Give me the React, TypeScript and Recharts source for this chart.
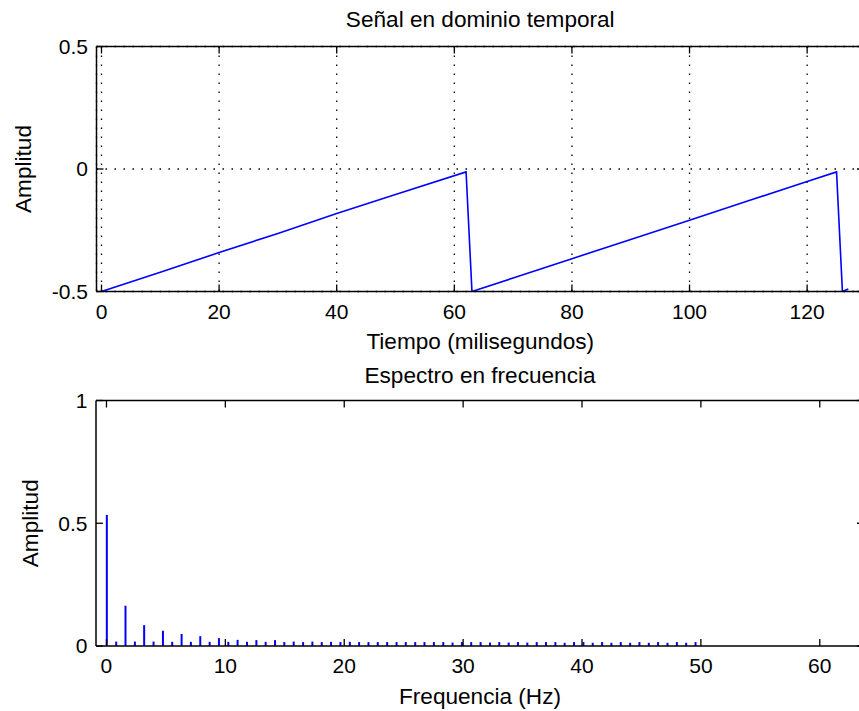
import React from 'react';
import { ComposedChart, Line, Bar, XAxis, YAxis, CartesianGrid } from 'recharts';

// ---- Top plot: time-domain signal ----
const timeMs = [0, 10, 20, 30, 40, 50, 62, 63, 70, 80, 90, 100, 110, 120, 125, 126, 127];
const signalAmp = [-0.5, -0.421, -0.341, -0.263, -0.182, -0.104, -0.012, -0.5, -0.445, -0.366, -0.288, -0.209, -0.13, -0.051, -0.012, -0.5, -0.49];
const timeTicks = [0, 20, 40, 60, 80, 100, 120];
const signalTicks = [-0.5, 0, 0.5];

// ---- Bottom plot: spectrum stems ----
const freqHz = [
  0, 0.79, 1.57, 2.36, 3.14, 3.93, 4.72, 5.5, 6.29, 7.07, 7.86, 8.65, 9.43, 10.22, 11.0, 11.79,
  12.58, 13.36, 14.15, 14.93, 15.72, 16.51, 17.29, 18.08, 18.86, 19.65, 20.44, 21.22, 22.01, 22.79, 23.58, 24.37,
  25.15, 25.94, 26.72, 27.51, 28.3, 29.08, 29.87, 30.65, 31.44, 32.23, 33.01, 33.8, 34.58, 35.37, 36.16, 36.94,
  37.73, 38.51, 39.3, 40.09, 40.87, 41.66, 42.44, 43.23, 44.02, 44.8, 45.59, 46.37, 47.16, 47.95, 48.73, 49.52,
];
const spectrumAmp = [
  0.534, 0.018, 0.164, 0.018, 0.085, 0.018, 0.062, 0.017, 0.049, 0.017, 0.04, 0.017, 0.032, 0.017, 0.025, 0.017,
  0.024, 0.017, 0.024, 0.016, 0.018, 0.016, 0.018, 0.016, 0.017, 0.016, 0.017, 0.016, 0.016, 0.016, 0.016, 0.016,
  0.016, 0.016, 0.016, 0.016, 0.016, 0.014, 0.016, 0.016, 0.016, 0.014, 0.016, 0.014, 0.016, 0.014, 0.016, 0.016,
  0.016, 0.013, 0.016, 0.016, 0.013, 0.016, 0.013, 0.016, 0.013, 0.016, 0.013, 0.016, 0.013, 0.016, 0.013, 0.016,
];
const freqTicks = [0, 10, 20, 30, 40, 50, 60];
const spectrumTicks = [0, 0.5, 1];

const timeData = timeMs.map((t, i) => ({ t, v: signalAmp[i] }));
const specData = freqHz.map((f, i) => ({ f, a: spectrumAmp[i] }));

const FONT = '"Liberation Sans", Arial, Helvetica, sans-serif';
const tickStyle = { fill: '#000', fontSize: 21, fontFamily: FONT };
const labelFont = { fill: '#000', fontSize: 22.6, fontFamily: FONT };
const axisLine = { stroke: '#000', strokeWidth: 1.5 };
const tickLine = { stroke: '#000', strokeWidth: 1.3 };
const emptyTick = () => <g />;
const fmt = (v: number) => String(v);

export default function App() {
  return (
    <div style={{ position: 'absolute', left: 0, top: 0, width: 859, height: 711, overflow: 'hidden', background: '#fff' }}>
      <div style={{ position: 'absolute', left: 0, top: 0 }}>
        <ComposedChart width={900} height={360} data={timeData} margin={{ top: 45.5, right: 35, bottom: 0, left: 0 }}>
          <CartesianGrid stroke="#000" strokeWidth={1.3} strokeDasharray="1.5 7.5" />
          <XAxis
            dataKey="t"
            type="number"
            domain={[-0.85, 129.67]}
            allowDataOverflow
            ticks={timeTicks}
            tickFormatter={fmt}
            height={68.5}
            axisLine={axisLine}
            tickLine={tickLine}
            tickSize={-7}
            tickMargin={20}
            tick={tickStyle}
            interval={0}
            label={{ value: 'Tiempo (milisegundos)', position: 'insideBottom', offset: 11, ...labelFont }}
          />
          <XAxis
            xAxisId="top"
            orientation="top"
            dataKey="t"
            type="number"
            domain={[-0.85, 129.67]}
            allowDataOverflow
            ticks={timeTicks}
            height={1}
            axisLine={axisLine}
            tickLine={tickLine}
            tickSize={-7}
            tick={emptyTick}
            interval={0}
            label={{ value: 'Señal en dominio temporal', position: 'top', offset: 19, ...labelFont }}
          />
          <YAxis
            type="number"
            domain={[-0.5, 0.5]}
            allowDataOverflow
            ticks={signalTicks}
            tickFormatter={fmt}
            width={96.5}
            axisLine={axisLine}
            tickLine={tickLine}
            tickSize={-7}
            tickMargin={15.5}
            tick={tickStyle}
            interval={0}
            label={{ value: 'Amplitud', angle: -90, position: 'insideLeft', offset: 23, ...labelFont, style: { textAnchor: 'middle' } }}
          />
          <YAxis
            yAxisId="right"
            orientation="right"
            type="number"
            domain={[-0.5, 0.5]}
            allowDataOverflow
            ticks={signalTicks}
            width={1}
            axisLine={axisLine}
            tickLine={tickLine}
            tickSize={-7}
            tick={emptyTick}
            interval={0}
          />
          <Line
            xAxisId="top"
            yAxisId="right"
            dataKey="v"
            type="linear"
            stroke="none"
            dot={false}
            activeDot={false}
            isAnimationActive={false}
          />
          <Line
            dataKey="v"
            type="linear"
            stroke="#0000ff"
            strokeWidth={1.6}
            dot={false}
            activeDot={false}
            isAnimationActive={false}
          />
        </ComposedChart>
      </div>
      <div style={{ position: 'absolute', left: 0, top: 360 }}>
        <ComposedChart width={900} height={351} data={specData} margin={{ top: 39.5, right: 35, bottom: 0, left: 0 }}>
          <XAxis
            dataKey="f"
            type="number"
            domain={[-0.88, 63.72]}
            allowDataOverflow
            ticks={freqTicks}
            tickFormatter={fmt}
            height={65}
            axisLine={axisLine}
            tickLine={tickLine}
            tickSize={-7}
            tickMargin={19.5}
            tick={tickStyle}
            interval={0}
            label={{ value: 'Frequencia (Hz)', position: 'insideBottom', offset: 7, ...labelFont }}
          />
          <XAxis
            xAxisId="top"
            orientation="top"
            dataKey="f"
            type="number"
            domain={[-0.88, 63.72]}
            allowDataOverflow
            ticks={freqTicks}
            height={1}
            axisLine={axisLine}
            tickLine={tickLine}
            tickSize={-7}
            tick={emptyTick}
            interval={0}
            label={{ value: 'Espectro en frecuencia', position: 'top', offset: 17, ...labelFont }}
          />
          <YAxis
            type="number"
            domain={[0, 1]}
            allowDataOverflow
            ticks={spectrumTicks}
            tickFormatter={fmt}
            width={96}
            axisLine={axisLine}
            tickLine={tickLine}
            tickSize={-7}
            tickMargin={15.5}
            tick={tickStyle}
            interval={0}
            label={{ value: 'Amplitud', angle: -90, position: 'insideLeft', offset: 29.5, ...labelFont, style: { textAnchor: 'middle' } }}
          />
          <YAxis
            yAxisId="right"
            orientation="right"
            type="number"
            domain={[0, 1]}
            allowDataOverflow
            ticks={spectrumTicks}
            width={1}
            axisLine={axisLine}
            tickLine={tickLine}
            tickSize={-7}
            tick={emptyTick}
            interval={0}
          />
          <Line
            xAxisId="top"
            yAxisId="right"
            dataKey="a"
            type="linear"
            stroke="none"
            dot={false}
            activeDot={false}
            isAnimationActive={false}
          />
          <Bar dataKey="a" fill="#0000ff" barSize={2} isAnimationActive={false} />
        </ComposedChart>
      </div>
    </div>
  );
}
